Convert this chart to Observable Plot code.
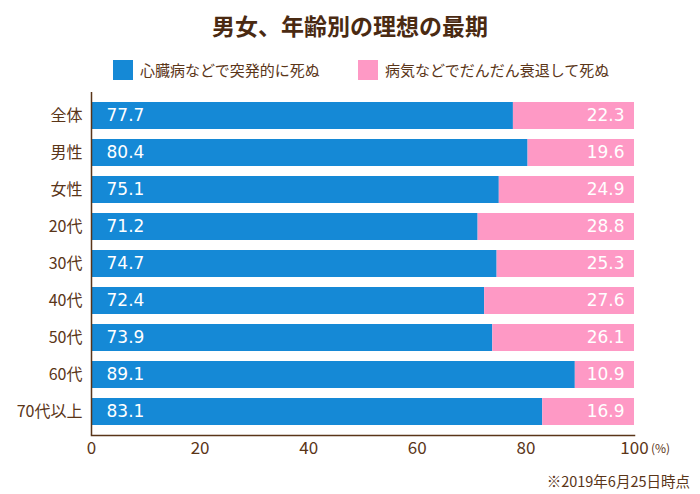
<!DOCTYPE html>
<html><head><meta charset="utf-8">
<script src="https://cdn.jsdelivr.net/npm/d3@7"></script>
<script src="https://cdn.jsdelivr.net/npm/@observablehq/plot@0.6"></script>
<style>
html,body{margin:0;padding:0;background:#fff;}
#wrap{position:relative;width:700px;height:494px;font-family:"Noto Sans CJK JP","Noto Sans",sans-serif;color:#5a3518;}
#title{position:absolute;left:0;top:8px;width:700px;text-align:center;font-size:23px;font-weight:bold;color:#4a2a12;}
.leg{position:absolute;top:59px;font-size:15px;display:flex;align-items:center;}
.sw{width:20px;height:20px;margin-right:7px;}
#plot{position:absolute;left:0;top:88px;}
#unit{position:absolute;left:651px;top:439px;font-size:12px;}
#cap{position:absolute;right:10px;top:470px;font-size:14.5px;}
</style></head><body>
<div id="wrap">
<div id="title">男女、年齢別の理想の最期</div>
<div class="leg" style="left:113px"><div class="sw" style="background:#1589d6"></div>心臓病などで突発的に死ぬ</div>
<div class="leg" style="left:358px"><div class="sw" style="background:#fe99c5"></div>病気などでだんだん衰退して死ぬ</div>
<div id="plot"></div>
<div id="unit">(%)</div>
<div id="cap">※2019年6月25日時点</div>
</div>
<script>
const categories = ["全体","男性","女性","20代","30代","40代","50代","60代","70代以上"];
const sudden = [77.7,80.4,75.1,71.2,74.7,72.4,73.9,89.1,83.1];
const gradual = [22.3,19.6,24.9,28.8,25.3,27.6,26.1,10.9,16.9];
const seriesNames = ["心臓病などで突発的に死ぬ","病気などでだんだん衰退して死ぬ"];
const xTicks = [0,20,40,60,80,100];

const rows = [];
categories.forEach((c,i)=>{
  rows.push({cat:c, type:seriesNames[0], value:sudden[i]});
  rows.push({cat:c, type:seriesNames[1], value:gradual[i]});
});
const suddenRows = rows.filter(d=>d.type===seriesNames[0]);
const gradualRows = rows.filter(d=>d.type===seriesNames[1]);

const brown = "#5a3518";
const numFont = '"DejaVu Sans",sans-serif';
const chart = Plot.plot({
  width:700, height:380,
  marginLeft:91, marginRight:66, marginTop:4, marginBottom:33,
  style:{fontFamily:'"Noto Sans CJK JP","Noto Sans",sans-serif', color:brown, background:"transparent"},
  x:{domain:[0,100], ticks:xTicks, label:null},
  y:{domain:categories, padding:0.26, label:null},
  color:{domain:seriesNames, range:["#1589d6","#fe99c5"]},
  marks:[
    Plot.barX(rows, Plot.stackX({x:"value", y:"cat", fill:"type"})),
    Plot.text(suddenRows, {x:0, y:"cat", text:d=>d.value.toFixed(1), textAnchor:"start", dx:15, fill:"white", fontSize:17, fontFamily:numFont}),
    Plot.text(gradualRows, {x:100, y:"cat", text:d=>d.value.toFixed(1), textAnchor:"end", dx:-10, fill:"white", fontSize:17, fontFamily:numFont}),
    Plot.axisY({tickSize:0, tickPadding:9, fontSize:16, fill:brown}),
    Plot.axisX({tickSize:0, tickPadding:6, fontSize:17, fill:brown, tickFormat:d=>String(d)}),
    Plot.ruleX([0], {stroke:brown, strokeWidth:1.5}),
    Plot.frame({anchor:"bottom", stroke:brown, strokeWidth:1.5})
  ]
});
document.getElementById("plot").appendChild(chart);
</script>
</body></html>
